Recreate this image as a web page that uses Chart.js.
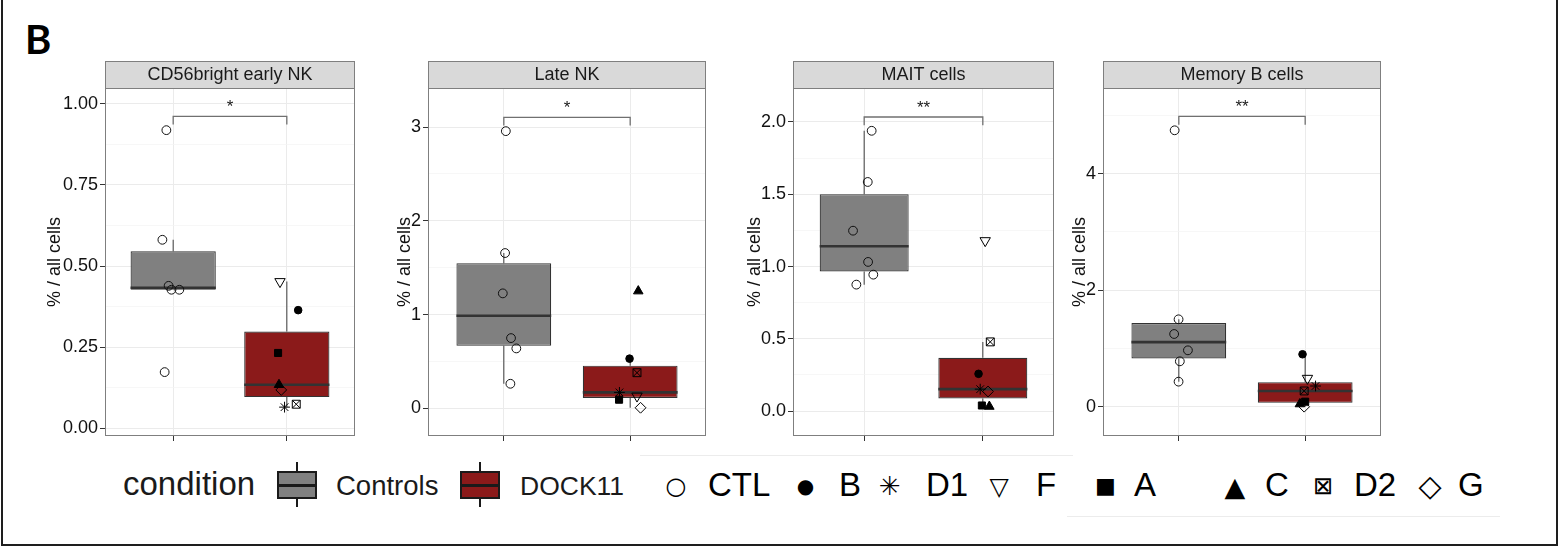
<!DOCTYPE html>
<html>
<head>
<meta charset="utf-8">
<script src="https://cdn.jsdelivr.net/npm/chart.js@4.4.1/dist/chart.umd.min.js"></script>
<style>
html, body { margin: 0; padding: 0; background: #fff; }
body { width: 1558px; height: 551px; position: relative; overflow: hidden; font-family: 'Liberation Sans', Arial, sans-serif; color: #1a1a1a; }
.frame { position: absolute; left: 1px; top: -10px; width: 1557px; height: 556px; box-sizing: border-box; border: 2px solid #1e1e1e; }
.panel { position: absolute; top: 61px; }
.lbl { position: absolute; line-height: 1; white-space: nowrap; }
.mk { position: absolute; line-height: 1; white-space: nowrap; font-family: 'DejaVu Sans', sans-serif; transform: translate(-50%, -50%); color: #000; }
.key { position: absolute; box-sizing: border-box; border: 2px solid #1a1a1a; }
.keyw { position: absolute; width: 2px; background: #1a1a1a; }
.keym { position: absolute; height: 3px; background: #1a1a1a; }
.hair { position: absolute; height: 1px; background: #ececec; }
</style>
</head>
<body>
<div class="frame"></div>
<div class="lbl" style="left:25px;top:15px;font:700 40px Lato, 'Open Sans', sans-serif;color:#000;">B</div>

<canvas id="p0" class="panel"></canvas>
<canvas id="p1" class="panel"></canvas>
<canvas id="p2" class="panel"></canvas>
<canvas id="p3" class="panel"></canvas>

<div class="hair" style="left:640px;top:455px;width:433px;"></div>
<div class="hair" style="left:1067px;top:516px;width:433px;"></div>
<div id="legend"></div>

<script>
// ---------------- data ----------------
const groups = ['Controls', 'DOCK11'];
const panelTitles = ['CD56bright early NK', 'Late NK', 'MAIT cells', 'Memory B cells'];
const patientIds = ['B', 'D1', 'F', 'A', 'C', 'D2', 'G'];
const significance = ['*', '*', '**', '**'];

// CD56bright early NK (% / all cells)
const earlyNK_controls = [0.919, 0.581, 0.439, 0.427, 0.427, 0.173];
const earlyNK_controlsJitter = [-0.06, -0.095, -0.04, -0.015, 0.054, -0.075];
const earlyNK_dock11 = [0.364, 0.065, 0.452, 0.232, 0.134, 0.074, 0.118];   // B D1 F A C D2 G
const earlyNK_dock11Jitter = [0.10, -0.02, -0.06, -0.077, -0.069, 0.083, -0.049];
const earlyNK_range = [-0.024, 1.049];
const earlyNK_ticks = [0, 0.25, 0.5, 0.75, 1.0];
const earlyNK_tickLabels = ['0.00', '0.25', '0.50', '0.75', '1.00'];

// Late NK
const lateNK_controls = [2.956, 1.656, 1.226, 0.749, 0.639, 0.262];
const lateNK_controlsJitter = [0.016, 0.01, -0.008, 0.057, 0.099, 0.052];
const lateNK_dock11 = [0.53, 0.17, 0.131, 0.092, 1.25, 0.38, 0.006];
const lateNK_dock11Jitter = [-0.005, -0.085, 0.054, -0.088, 0.064, 0.054, 0.082];
const lateNK_range = [-0.295, 3.416];
const lateNK_ticks = [0, 1, 2, 3];
const lateNK_tickLabels = ['0', '1', '2', '3'];

// MAIT cells
const mait_controls = [1.939, 1.585, 1.248, 1.032, 0.944, 0.875];
const mait_controlsJitter = [0.063, 0.03, -0.094, 0.033, 0.077, -0.066];
const mait_dock11 = [0.258, 0.152, 1.179, 0.039, 0.032, 0.479, 0.136];
const mait_dock11Jitter = [-0.036, -0.022, 0.02, -0.008, 0.055, 0.063, 0.044];
const mait_range = [-0.172, 2.235];
const mait_ticks = [0, 0.5, 1.0, 1.5, 2.0];
const mait_tickLabels = ['0.0', '0.5', '1.0', '1.5', '2.0'];

// Memory B cells
const memB_controls = [4.745, 1.5, 1.248, 0.968, 0.779, 0.43];
const memB_controlsJitter = [-0.033, -0.002, -0.037, 0.072, 0.008, -0.002];
const memB_dock11 = [0.9, 0.355, 0.487, 0.086, 0.046, 0.27, 0.0];
const memB_dock11Jitter = [-0.021, 0.082, 0.018, 0.0, -0.042, -0.008, -0.008];
const memB_range = [-0.503, 5.471];
const memB_ticks = [0, 2, 4];
const memB_tickLabels = ['0', '2', '4'];

const axisTitle = '% / all cells';
const legendTitle = 'condition';
const legendSubjects = ['CTL', 'B', 'D1', 'F', 'A', 'C', 'D2', 'G'];

// ---------------- assembly ----------------
const panels = [
  { ctl: earlyNK_controls, ctlJit: earlyNK_controlsJitter, dock: earlyNK_dock11, dockJit: earlyNK_dock11Jitter, range: earlyNK_range, ticks: earlyNK_ticks, labels: earlyNK_tickLabels },
  { ctl: lateNK_controls, ctlJit: lateNK_controlsJitter, dock: lateNK_dock11, dockJit: lateNK_dock11Jitter, range: lateNK_range, ticks: lateNK_ticks, labels: lateNK_tickLabels },
  { ctl: mait_controls, ctlJit: mait_controlsJitter, dock: mait_dock11, dockJit: mait_dock11Jitter, range: mait_range, ticks: mait_ticks, labels: mait_tickLabels },
  { ctl: memB_controls, ctlJit: memB_controlsJitter, dock: memB_dock11, dockJit: memB_dock11Jitter, range: memB_range, ticks: memB_ticks, labels: memB_tickLabels }
];

// layout (page pixels)
const panelLayout = [
  { left: 44, yw: 61, plotW: 255 },
  { left: 394, yw: 34, plotW: 283 },
  { left: 744, yw: 49, plotW: 266 },
  { left: 1069, yw: 34, plotW: 283 }
];
const STRIP_H = 27, PLOT_H = 348, XAXIS_H = 14;
const BOX_WIDTH = 0.75;
const GREY = '#7f7f7f';
const boxFill = ['#808080', '#8b1a1a'];
const FONT = "'Liberation Sans', Arial, Helvetica, sans-serif";

Chart.defaults.font.family = FONT;
Chart.defaults.color = '#1a1a1a';

const subjectStyle = {
  CTL: [{ pointStyle: 'circle', radius: 4.4, filled: false }],
  B:   [{ pointStyle: 'circle', radius: 3.8, filled: true }],
  D1:  [{ pointStyle: 'star', radius: 5.4, filled: false }],
  F:   [{ pointStyle: 'triangle', rotation: 180, radius: 6, filled: false }],
  A:   [{ pointStyle: 'rect', radius: 5, filled: true }],
  C:   [{ pointStyle: 'triangle', radius: 5.5, filled: true }],
  D2:  [{ pointStyle: 'rect', radius: 5.6, filled: false }, { pointStyle: 'crossRot', radius: 5.6, filled: false }],
  G:   [{ pointStyle: 'rectRot', radius: 5.4, filled: false }]
};

function quantile7(s, p) {
  const h = (s.length - 1) * p, lo = Math.floor(h), hi = Math.ceil(h);
  return s[lo] + (h - lo) * (s[hi] - s[lo]);
}
function boxStats(values) {
  const s = values.slice().sort((a, b) => a - b);
  const q1 = quantile7(s, 0.25), med = quantile7(s, 0.5), q3 = quantile7(s, 0.75), iqr = q3 - q1;
  const lo = s.find(v => v >= q1 - 1.5 * iqr);
  const hi = s.slice().reverse().find(v => v <= q3 + 1.5 * iqr);
  return { q1, med, q3, lo, hi };
}
function segment(a, b, width, color) {
  return { type: 'line', data: [a, b], borderColor: color, borderWidth: width, pointRadius: 0, fill: false, tension: 0, order: 1, borderCapStyle: 'butt' };
}

const decor = {
  id: 'decor',
  beforeDatasetsDraw(chart, args, opts) {
    const { ctx, chartArea: a } = chart;
    ctx.save();
    ctx.fillStyle = '#d9d9d9';
    ctx.fillRect(a.left, 0, a.right - a.left, a.top);
    ctx.strokeStyle = GREY; ctx.lineWidth = 1;
    ctx.strokeRect(a.left + 0.5, 0.5, a.right - a.left - 1, a.top);
    ctx.strokeRect(a.left + 0.5, a.top + 0.5, a.right - a.left - 1, a.bottom - a.top - 1);
    ctx.fillStyle = '#1a1a1a';
    ctx.font = '18px ' + FONT;
    ctx.textAlign = 'center'; ctx.textBaseline = 'middle';
    ctx.fillText(opts.title, (a.left + a.right) / 2, a.top / 2 + 1);
    ctx.restore();
  },
  afterDatasetsDraw(chart, args, opts) {
    const { ctx } = chart;
    ctx.save();
    ctx.fillStyle = '#1a1a1a';
    ctx.font = '17px ' + FONT;
    ctx.textAlign = 'center'; ctx.textBaseline = 'alphabetic';
    ctx.fillText(opts.sig, chart.scales.x.getPixelForValue(1.5), chart.scales.y.getPixelForValue(opts.bracketY) - 4);
    ctx.restore();
  }
};

panels.forEach((p, i) => {
  const lay = panelLayout[i];
  const cv = document.getElementById('p' + i);
  cv.width = lay.yw + lay.plotW + 2;
  cv.height = STRIP_H + PLOT_H + XAXIS_H;
  cv.style.left = lay.left + 'px';

  const sC = boxStats(p.ctl), sD = boxStats(p.dock);
  const all = p.ctl.concat(p.dock);
  const dmax = Math.max(...all), dmin = Math.min(...all), span = dmax - dmin;
  const brY = dmax + 0.05 * span, brTip = brY - 0.03 * span;
  const hw = BOX_WIDTH / 2;

  const datasets = [];
  const ctlStyle = subjectStyle.CTL[0];
  datasets.push({
    type: 'scatter', label: 'CTL', order: 0,
    data: p.ctl.map((v, k) => ({ x: 1 + p.ctlJit[k], y: v })),
    pointStyle: ctlStyle.pointStyle, pointRadius: ctlStyle.radius, pointBorderWidth: 1,
    pointBorderColor: '#111', pointBackgroundColor: 'rgba(0,0,0,0)'
  });
  patientIds.forEach((id, j) => {
    subjectStyle[id].forEach(st => {
      datasets.push({
        type: 'scatter', label: id, order: 0,
        data: [{ x: 2 + p.dockJit[j], y: p.dock[j] }],
        pointStyle: st.pointStyle, pointRadius: st.radius, pointRotation: st.rotation || 0,
        pointBorderWidth: 1, pointBorderColor: '#000',
        pointBackgroundColor: st.filled ? '#000' : 'rgba(0,0,0,0)'
      });
    });
  });
  [sC, sD].forEach((s, g) => {
    const x = g + 1;
    datasets.push(segment({ x: x - hw, y: s.med }, { x: x + hw, y: s.med }, 2.6, '#333333'));
    datasets.push(segment({ x: x, y: s.q3 }, { x: x, y: s.hi }, 1.1, '#4d4d4d'));
    datasets.push(segment({ x: x, y: s.q1 }, { x: x, y: s.lo }, 1.1, '#4d4d4d'));
  });
  datasets.push({ type: 'line', data: [{ x: 1, y: brTip }, { x: 1, y: brY }, { x: 2, y: brY }, { x: 2, y: brTip }],
    borderColor: '#707070', borderWidth: 1.3, pointRadius: 0, fill: false, tension: 0, order: 1 });
  datasets.push({
    type: 'bar', label: 'box', order: 2,
    data: [{ x: 1, y: [sC.q1, sC.q3] }, { x: 2, y: [sD.q1, sD.q3] }],
    backgroundColor: boxFill, borderColor: '#333333', borderWidth: 1.2, borderSkipped: false,
    barPercentage: 1, categoryPercentage: BOX_WIDTH
  });

  const step = p.ticks[1] - p.ticks[0];
  const tickVals = [], tickLabs = [], tickMajor = [];
  for (let v = p.ticks[0] - step / 2; v <= p.range[1] + 1e-9; v += step / 2) {
    if (v < p.range[0]) continue;
    const r = Math.round(v * 1e6) / 1e6;
    const mi = p.ticks.findIndex(t => Math.abs(t - r) < 1e-9);
    tickVals.push(r);
    tickLabs.push(mi >= 0 ? p.labels[mi] : '');
    tickMajor.push(mi >= 0);
  }

  new Chart(cv, {
    type: 'scatter',
    data: { datasets },
    options: {
      responsive: false, animation: false, devicePixelRatio: 1, events: [],
      layout: { padding: { top: STRIP_H, right: 2, left: 0, bottom: 0 } },
      plugins: { legend: { display: false }, tooltip: { enabled: false },
        decor: { title: panelTitles[i], sig: significance[i], bracketY: brY } },
      scales: {
        x: {
          type: 'linear', min: 0.4, max: 2.6, offset: false, bounds: 'data',
          afterBuildTicks: a => { a.ticks = [{ value: 1 }, { value: 2 }]; },
          afterFit: a => { a.height = XAXIS_H; },
          ticks: { display: false },
          grid: { offset: false, color: '#ebebeb', lineWidth: 1, tickLength: 5, tickColor: '#333' },
          border: { display: false }
        },
        y: {
          type: 'linear', min: p.range[0], max: p.range[1], beginAtZero: false,
          afterBuildTicks: a => { a.ticks = tickVals.map(v => ({ value: v })); },
          afterFit: a => { a.width = lay.yw; },
          ticks: { autoSkip: false, padding: 2, font: { size: 18 }, color: '#111',
            callback: (v, k) => tickLabs[k] },
          grid: {
            offset: false,
            color: c => tickMajor[c.index] ? '#ebebeb' : '#f4f4f4',
            lineWidth: c => tickMajor[c.index] ? 1 : 0.7,
            tickLength: 5,
            tickColor: c => tickMajor[c.index] ? '#333' : 'rgba(0,0,0,0)'
          },
          border: { display: false },
          title: { display: true, text: axisTitle, font: { size: 18 }, padding: 0, color: '#111' }
        }
      }
    },
    plugins: [decor]
  });
});

// ---------------- legend ----------------
const legend = document.getElementById('legend');
function addEl(cls, style, text) {
  const d = document.createElement('div');
  d.className = cls; d.setAttribute('style', style);
  if (text !== undefined) d.textContent = text;
  legend.appendChild(d);
}
addEl('lbl', 'left:123px;top:467px;font-size:33px;', legendTitle);
const keyPos = [{ x: 277, tx: 336, fs: 27.5 }, { x: 460, tx: 520, fs: 26.5 }];
groups.forEach((g, k) => {
  const kp = keyPos[k];
  addEl('keyw', `left:${kp.x + 19}px;top:462px;height:45px;`);
  addEl('key', `left:${kp.x}px;top:471px;width:40px;height:28px;background:${boxFill[k]};`);
  addEl('keym', `left:${kp.x}px;top:483.5px;width:40px;`);
  addEl('lbl', `left:${kp.tx}px;top:${495 - 0.8465 * kp.fs}px;font-size:${kp.fs}px;`, g);
});
const shapeGlyphs = ['\u25CB', '\u25CF', '\u2733', '\u25BD', '\u25A0', '\u25B2', '\u22A0', '\u25C7'];
const shapeGlyphSize = [24, 20, 26, 25, 22, 27, 24, 30];
const shapeX = [676, 805.5, 890, 999, 1105.5, 1235, 1323, 1430];
const shapeTextX = [708, 839, 926, 1036, 1134, 1265, 1354, 1458];
legendSubjects.forEach((s, k) => {
  addEl('mk', `left:${shapeX[k]}px;top:486px;font-size:${shapeGlyphSize[k]}px;`, shapeGlyphs[k]);
  addEl('lbl', `left:${shapeTextX[k]}px;top:${496 - 0.8465 * 33}px;font-size:33px;color:#000;`, s);
});
</script>
</body>
</html>
